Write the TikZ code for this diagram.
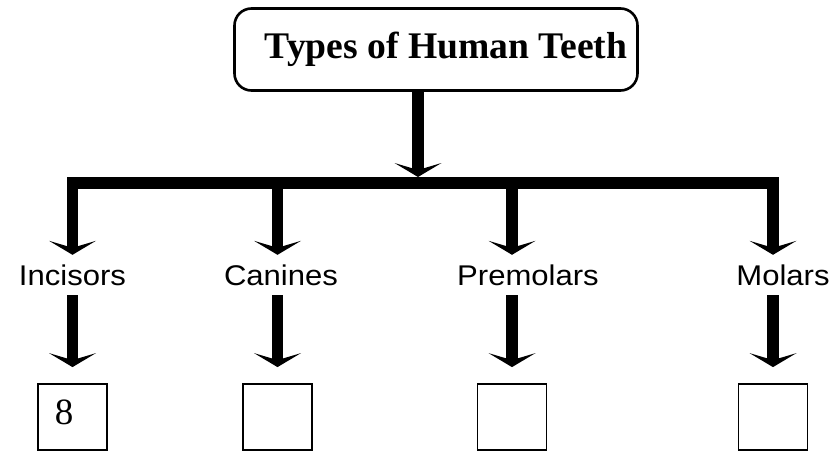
\documentclass[tikz,border=0pt]{standalone}
\usepackage{fontspec}
\setmainfont{Liberation Serif}
\newfontfamily\labfont{Liberation Sans}
\usetikzlibrary{arrows.meta}
\begin{document}
\begin{tikzpicture}[x=1pt,y=-1pt,
 bigarr/.style={line width=11.5pt, -{Stealth[length=14pt,width=47pt,inset=7pt,line width=0pt]}},
 titlebox/.style={draw, line width=2.6pt, rounded corners=17pt, minimum width=403pt, minimum height=82pt, inner sep=0pt, font=\fontsize{37.6}{40}\selectfont\bfseries},
 lab/.style={anchor=base, inner xsep=0pt, inner ysep=10pt, text height=20pt, text depth=0pt, font=\fontsize{28.5}{30}\labfont},
 ansbox/.style={draw, line width=1.8pt, minimum width=69pt, minimum height=66pt, inner sep=0pt, font=\fontsize{37}{40}\selectfont}]
\useasboundingbox (0,0) rectangle (833,452);
\node[titlebox, text depth=9pt] (title) at (436,49.5) {\hspace*{20pt}Types of Human Teeth};
\node[ansbox, text depth=10pt] (n1) at (72.5,417) {\hspace*{-17pt}8};
\node[ansbox] (n2) at (277.5,417) {};
\node[ansbox] (n3) at (512,417) {};
\node[ansbox] (n4) at (773,417) {};
\node[lab] (l1) at (72.5,285) {\scalebox{1.09}[1]{Incisors}};
\node[lab] (l2) at (281,285) {\scalebox{1.09}[1]{Canines}};
\node[lab] (l3) at (528,285) {\scalebox{1.09}[1]{Premolars}};
\node[lab] (l4) at (783,285) {\scalebox{1.09}[1]{Molars}};
\coordinate (barY) at (0,183);
\coordinate (hub) at (418,177);
\draw[line width=12pt, line cap=rect] (n1 |- barY) -- (n4 |- barY);
\draw[bigarr] (hub |- title.south) -- (hub);
\foreach \i in {1,2,3,4}{
  \draw[bigarr] (n\i |- barY) -- (n\i |- l\i.north);
  \draw[bigarr, shorten >=16pt] (n\i |- l\i.south) -- (n\i.north);
}
\end{tikzpicture}
\end{document}
